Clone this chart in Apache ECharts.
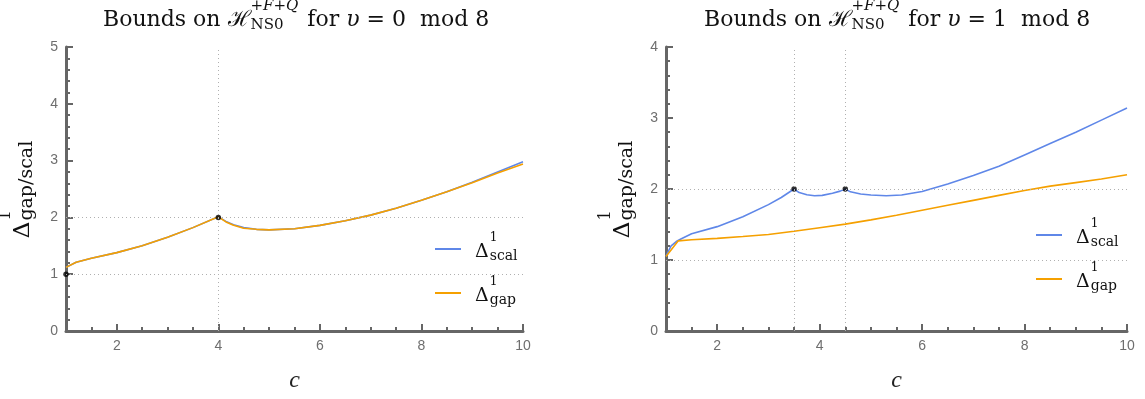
<!DOCTYPE html>
<html>
<head>
<meta charset="utf-8">
<script src="https://cdn.jsdelivr.net/npm/echarts@6/dist/echarts.min.js"></script>
<style>
  html, body { margin: 0; padding: 0; background: #fff; }
  #chart { width: 1145px; height: 399px; }
</style>
</head>
<body>
<div id="chart"></div>
<script>
// 左图：v = 0 mod 8
const cLeft = [1.0, 1.2, 1.5, 2.0, 2.5, 3.0, 3.5, 4.0, 4.15, 4.3, 4.5, 4.75, 5.0, 5.5, 6.0, 6.5, 7.0, 7.5, 8.0, 8.5, 9.0, 9.5, 10.0];
const scalLeft = [1.12, 1.21, 1.28, 1.38, 1.50, 1.65, 1.82, 2.01, 1.93, 1.87, 1.82, 1.79, 1.78, 1.80, 1.86, 1.94, 2.04, 2.16, 2.30, 2.45, 2.62, 2.80, 2.98];
const gapLeft  = [1.12, 1.21, 1.28, 1.38, 1.50, 1.65, 1.82, 2.01, 1.92, 1.86, 1.81, 1.79, 1.78, 1.80, 1.86, 1.94, 2.04, 2.16, 2.30, 2.45, 2.61, 2.78, 2.94];
const dotsLeft = [[1, 1], [4, 2]];
const hLinesLeft = [1, 2];
const vLinesLeft = [4];

// 右图：v = 1 mod 8
const cRightScal = [1.0, 1.05, 1.1, 1.2, 1.3, 1.5, 2.0, 2.5, 3.0, 3.25, 3.5, 3.6, 3.75, 3.9, 4.05, 4.25, 4.4, 4.5, 4.6, 4.8, 5.0, 5.3, 5.6, 6.0, 6.5, 7.0, 7.5, 8.0, 8.5, 9.0, 9.5, 10.0];
const scalRight  = [1.05, 1.13, 1.20, 1.26, 1.30, 1.37, 1.47, 1.61, 1.78, 1.88, 2.00, 1.95, 1.92, 1.905, 1.91, 1.94, 1.97, 2.00, 1.96, 1.93, 1.915, 1.905, 1.915, 1.965, 2.07, 2.19, 2.32, 2.48, 2.64, 2.80, 2.97, 3.14];
const cRightGap = [1.0, 1.24, 1.5, 2.0, 2.5, 3.0, 3.5, 4.0, 4.5, 5.0, 5.5, 6.0, 6.5, 7.0, 7.5, 8.0, 8.5, 9.0, 9.5, 10.0];
const gapRight  = [1.05, 1.27, 1.285, 1.305, 1.33, 1.36, 1.405, 1.455, 1.505, 1.565, 1.63, 1.70, 1.77, 1.84, 1.91, 1.98, 2.04, 2.09, 2.14, 2.20];
const dotsRight = [[3.5, 2], [4.5, 2]];
const hLinesRight = [1, 2];
const vLinesRight = [3.5, 4.5];

const xMajorTicks = [2, 4, 6, 8, 10];
const vValues = ['0', '1'];
const yMax = [5, 4];

const BLUE = '#5f87e8';
const ORANGE = '#f5a000';
const AXIS = '#666666';
const SERIF = '"DejaVu Serif", "Liberation Serif", serif';
const LSERIF = '"Liberation Serif", "DejaVu Serif", serif';
const SANS = '"Liberation Sans", Arial, sans-serif';

const measureCtx = document.createElement('canvas').getContext('2d');
function textWidth(str, size, style) {
  measureCtx.font = (style || 'normal') + ' normal ' + size + 'px ' + SERIF;
  return measureCtx.measureText(str).width;
}

function pairs(xs, ys) {
  return xs.map((x, i) => [x, ys[i]]);
}

// 标题：上标和下标叠在 ℋ 右侧
function makeTitle(centerX, v) {
  const big = 22, small = 15;
  const wHead = textWidth('Bounds on ℋ', big);
  const wSup = textWidth('+', small) * 2 + textWidth('F', small, 'italic') + textWidth('Q', small, 'italic');
  const wScript = Math.max(wSup, textWidth('NS0', small)) + 2;
  const wTail = textWidth(' for ', big) + textWidth('υ', big, 'italic') + textWidth(' = ' + v + '  mod 8', big);
  const total = wHead + wScript + wTail;
  const base = { fontFamily: SERIF, fontWeight: 'normal', color: '#111', align: 'left' };
  return {
    text: '{gap| }{supR|+}{supI|F}{supR|+}{supI|Q}\n' +
          '{m|Bounds on ℋ}{sub|NS0}{m| for }{mi|υ}{m| = ' + v + '  mod 8}',
    left: Math.round(centerX - total / 2),
    top: 5,
    padding: 0,
    textAlign: 'left',
    textStyle: {
      fontWeight: 'normal',
      rich: {
        gap: Object.assign({}, base, { width: wHead, lineHeight: 2, fontSize: small }),
        supR: Object.assign({}, base, { fontSize: small, lineHeight: 2 }),
        supI: Object.assign({}, base, { fontSize: small, lineHeight: 2, fontStyle: 'italic' }),
        m: Object.assign({}, base, { fontSize: big, lineHeight: 26 }),
        mi: Object.assign({}, base, { fontSize: big, lineHeight: 26, fontStyle: 'italic' }),
        sub: Object.assign({}, base, { fontSize: small, width: wScript, lineHeight: 12, verticalAlign: 'bottom' })
      }
    }
  };
}

const yWd = textWidth('Δ', 23) + 1;
const yWs = textWidth('gap/scal', 19) + 1;
const yName = '{sp| }{sup|1}\n{D|Δ}{sub|gap/scal}';
const yNameRich = {
  sp: { width: yWd, align: 'left', lineHeight: 6, fontSize: 16, fontFamily: SERIF },
  sup: { width: yWs, align: 'left', lineHeight: 6, fontSize: 16, fontFamily: SERIF, color: '#111' },
  D: { width: yWd, align: 'left', lineHeight: 28, fontSize: 23, fontFamily: SERIF, color: '#111' },
  sub: { width: yWs, align: 'left', lineHeight: 14, verticalAlign: 'bottom', fontSize: 19, fontFamily: SERIF, color: '#111' }
};

const legendWd = textWidth('Δ', 19) + 1;
const legendSub = { 'Δ¹scal': 'scal', 'Δ¹gap': 'gap' };
function makeLegend(left, top) {
  return {
    left: left,
    top: top,
    orient: 'vertical',
    padding: 0,
    itemGap: 13,
    itemWidth: 26,
    itemHeight: 2,
    icon: 'rect',
    selectedMode: false,
    data: ['Δ¹scal', 'Δ¹gap'],
    formatter: name => '{sp| }{sup|1}\n{D|Δ}{sub|' + legendSub[name] + '}',
    textStyle: {
      padding: [0, 0, 0, 9],
      rich: {
        sp: { width: legendWd, align: 'left', lineHeight: 6, fontSize: 12, fontFamily: SERIF },
        sup: { align: 'left', lineHeight: 6, fontSize: 12, fontFamily: SERIF, color: '#111' },
        D: { width: legendWd, align: 'left', lineHeight: 22, fontSize: 19, fontFamily: SERIF, color: '#111' },
        sub: { align: 'left', lineHeight: 12, verticalAlign: 'bottom', fontSize: 14, fontFamily: SERIF, color: '#111' }
      }
    }
  };
}

function xAxisMain(gridIndex) {
  return {
    type: 'value', gridIndex: gridIndex, min: 1, max: 10, interval: 0.5,
    position: 'bottom',
    axisLine: { lineStyle: { color: AXIS, width: 3 } },
    axisTick: { inside: true, length: 4, lineStyle: { color: AXIS, width: 2 } },
    axisLabel: {
      formatter: v => (v % 2 === 0 ? String(v) : ''),
      color: '#6e6e6e', fontSize: 14, fontFamily: SANS, margin: 8
    },
    splitLine: { show: false },
    name: 'c', nameLocation: 'middle', nameGap: 38,
    nameTextStyle: { fontFamily: LSERIF, fontStyle: 'italic', fontSize: 24, color: '#222' }
  };
}

function xAxisMajor(gridIndex) {
  return {
    type: 'value', gridIndex: gridIndex, min: 1, max: 10,
    position: 'bottom', offset: 0,
    axisLine: { show: false },
    axisTick: { show: true, inside: true, length: 7, customValues: xMajorTicks, lineStyle: { color: AXIS, width: 2 } },
    axisLabel: { show: false },
    splitLine: { show: false }
  };
}

function yAxis(gridIndex, max) {
  return {
    type: 'value', gridIndex: gridIndex, min: 0, max: max, interval: 1,
    axisLine: { show: true, lineStyle: { color: AXIS, width: 3 } },
    axisTick: { show: true, inside: true, length: 7, lineStyle: { color: AXIS, width: 2 } },
    minorTick: { show: true, splitNumber: 5, length: 4, lineStyle: { color: AXIS, width: 2 } },
    axisLabel: { color: '#6e6e6e', fontSize: 14, fontFamily: SANS, margin: 8 },
    splitLine: { show: false },
    name: yName, nameLocation: 'middle', nameGap: 29, nameRotate: 90,
    nameTextStyle: { rich: yNameRich }
  };
}

function refLines(hLines, vLines) {
  return {
    silent: true,
    symbol: 'none',
    label: { show: false },
    lineStyle: { type: [1, 3], color: '#b0b0b0', width: 1 },
    data: hLines.map(v => ({ yAxis: v })).concat(vLines.map(v => ({ xAxis: v })))
  };
}

function chartSeries(idx, cScal, scal, cGap, gap, dots, hLines, vLines) {
  return [
    {
      name: 'ref' + idx, type: 'line', xAxisIndex: idx * 2, yAxisIndex: idx,
      data: [], z: 1, silent: true, markLine: refLines(hLines, vLines)
    },
    {
      name: 'Δ¹scal', type: 'line', xAxisIndex: idx * 2, yAxisIndex: idx,
      data: pairs(cScal, scal), showSymbol: false, z: 2,
      lineStyle: { color: BLUE, width: 1.6 }, itemStyle: { color: BLUE }
    },
    {
      name: 'Δ¹gap', type: 'line', xAxisIndex: idx * 2, yAxisIndex: idx,
      data: pairs(cGap, gap), showSymbol: false, z: 3,
      lineStyle: { color: ORANGE, width: 1.6 }, itemStyle: { color: ORANGE }
    },
    {
      name: 'dots' + idx, type: 'scatter', xAxisIndex: idx * 2, yAxisIndex: idx,
      data: dots, symbolSize: 5.5, z: 4, clip: false,
      itemStyle: { color: '#000' }
    }
  ];
}

const chart = echarts.init(document.getElementById('chart'));
chart.setOption({
  animation: false,
  backgroundColor: '#fff',
  title: [makeTitle(296, vValues[0]), makeTitle(897, vValues[1])],
  legend: [makeLegend(435, 232), makeLegend(1036, 218)],
  grid: [
    { left: 66, top: 47, width: 457, height: 284, outerBoundsMode: 'none', containLabel: false },
    { left: 666, top: 47, width: 461, height: 284, outerBoundsMode: 'none', containLabel: false }
  ],
  xAxis: [xAxisMain(0), xAxisMajor(0), xAxisMain(1), xAxisMajor(1)],
  yAxis: [yAxis(0, yMax[0]), yAxis(1, yMax[1])],
  series: chartSeries(0, cLeft, scalLeft, cLeft, gapLeft, dotsLeft, hLinesLeft, vLinesLeft)
    .concat(chartSeries(1, cRightScal, scalRight, cRightGap, gapRight, dotsRight, hLinesRight, vLinesRight))
});

window.addEventListener('resize', () => chart.resize());
</script>
</body>
</html>
